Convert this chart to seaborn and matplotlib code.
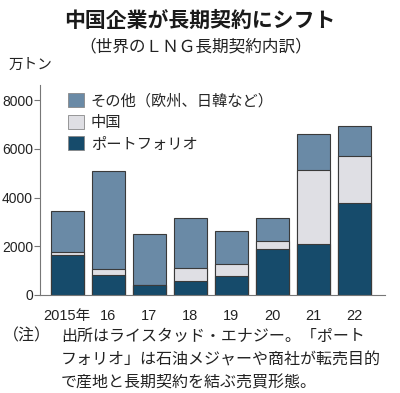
import matplotlib
matplotlib.use("Agg")
import matplotlib.pyplot as plt
import seaborn as sns
import pandas as pd
import numpy as np
from matplotlib.patches import Patch

sns.set_theme(style="white")
plt.rcParams['font.family'] = ['Noto Sans CJK JP', 'DejaVu Sans']

years = ["2015年", "16", "17", "18", "19", "20", "21", "22"]
portfolio = [1650, 820, 400, 580, 800, 1900, 2100, 3780]
china = [100, 260, 0, 540, 480, 330, 3030, 1920]
other = [1700, 4020, 2100, 2060, 1370, 920, 1470, 1230]
series_names = ["その他（欧州、日韓など）", "中国", "ポートフォリオ"]
yticks = [0, 2000, 4000, 6000, 8000]

c_other = "#6a8aa6"
c_china = "#dfdfe4"
c_port = "#164b6b"
edge = "#3a3a3a"

df = pd.DataFrame({"year": years, "portfolio": portfolio, "china": china, "other": other})
df["pc"] = df["portfolio"] + df["china"]
df["total"] = df["pc"] + df["other"]

fig = plt.figure(figsize=(4.0, 3.93), dpi=100)
ax = fig.add_axes([0.1, 0.2494, 0.8625, 0.5343])

for col, color in [("total", c_other), ("pc", c_china), ("portfolio", c_port)]:
    sns.barplot(data=df, x="year", y=col, color=color, width=0.81,
                edgecolor=edge, linewidth=0.8, saturation=1, ax=ax, order=years)

num_font = ['Liberation Sans', 'Noto Sans CJK JP']
ax.set_xlim(-0.665, 7.74)
ax.set_ylim(0, 8630)
ax.set_yticks(yticks)
ax.set_yticklabels([str(v) for v in yticks], family=num_font, fontsize=10)
ax.set_xticks(range(len(years)))
ax.set_xticklabels(years, family=num_font, fontsize=10.5)
ax.set_xlabel("")
ax.set_ylabel("")
for s in ["top", "right"]:
    ax.spines[s].set_visible(False)
for s in ["left", "bottom"]:
    ax.spines[s].set_color("#777777")
    ax.spines[s].set_linewidth(0.8)
ax.tick_params(axis="y", which="both", left=True, length=4, width=0.8, color="#777777", pad=1, colors="#222222")
ax.tick_params(axis="x", which="both", bottom=False, pad=4, colors="#222222")

handles = [Patch(facecolor=c, edgecolor="#888888", linewidth=0.6) for c in (c_other, c_china, c_port)]
ax.legend(handles, series_names, loc="upper left", bbox_to_anchor=(0.17, 0.765),
          bbox_transform=fig.transFigure, frameon=False, fontsize=11,
          handlelength=1.05, handleheight=1.05, handletextpad=0.45, labelspacing=0.3,
          borderaxespad=0, borderpad=0)

fig.text(0.5, 0.949, "中国企業が長期契約にシフト", ha="center", va="center",
         fontsize=15, fontweight="bold", color="#1a1a1a")
fig.text(0.49, 0.88, "（世界のＬＮＧ長期契約内訳）", ha="center", va="center",
         fontsize=12, color="#222222")
fig.text(0.022, 0.835, "万トン", ha="left", va="center", fontsize=10.5, color="#222222")

note_x = 0.152
fig.text(0.008, 0.145, "（注）", ha="left", va="center", fontsize=11.5, color="#222222")
fig.text(note_x, 0.145, "出所はライスタッド・エナジー。「ポート", ha="left", va="center", fontsize=11.5, color="#222222")
fig.text(note_x, 0.084, "フォリオ」は石油メジャーや商社が転売目的", ha="left", va="center", fontsize=11.5, color="#222222")
fig.text(note_x, 0.025, "で産地と長期契約を結ぶ売買形態。", ha="left", va="center", fontsize=11.5, color="#222222")

fig.savefig("out.png", dpi=100, facecolor="white")
